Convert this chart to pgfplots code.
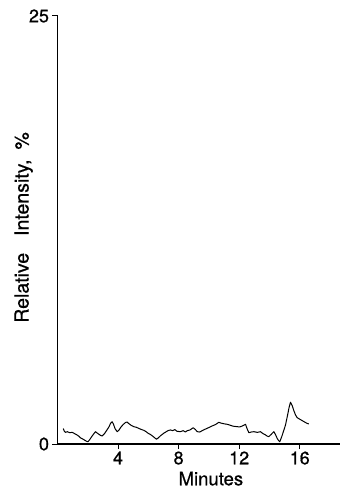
\documentclass[border=0pt]{standalone}
\usepackage{fontspec}
\setmainfont{TeX Gyre Heros}[FakeBold=0.7]
\newfontfamily\heavy{TeX Gyre Heros}[FakeBold=0.7]
\usepackage{pgfplots}
\pgfplotsset{compat=1.18}
\begin{document}
\begin{tikzpicture}
\useasboundingbox (0,0) rectangle (345pt,489pt);
\begin{axis}[
  at={(57.5pt,45pt)}, anchor=south west,
  scale only axis, width=282.5pt, height=428pt,
  xmin=0, xmax=18.66, ymin=0, ymax=25,
  enlargelimits=false, clip=false,
  axis lines=left,
  axis line style={-, line width=1.1pt, black},
  tick align=outside, major tick length=5pt,
  tick style={line width=1pt, black},
  xtick={4,8,12,16}, ytick={0,25},
  minor tick num=0,
  /pgf/number format/assume math mode=true,
  tick label style={font=\heavy\fontsize{18}{20}\selectfont},
  xticklabel style={yshift=1pt},
  xlabel={Minutes},
  xlabel style={at={(axis description cs:0.543,-0.081)}, anchor=center, font=\heavy\fontsize{18.5}{21}\selectfont},
  ylabel={Relative\hspace{17pt}Intensity,\hspace{10pt}\%},
  ylabel style={at={(axis description cs:-0.120,0.506)}, anchor=center, font=\heavy\fontsize{19.5}{22}\selectfont},
]
\addplot[black, line width=1pt, line join=round] coordinates {
(0.38,0.90) (0.45,0.75) (0.53,0.68) (0.65,0.72) (0.80,0.66) (0.97,0.68)
(1.10,0.62) (1.25,0.55) (1.40,0.46) (1.52,0.36) (1.65,0.30) (1.80,0.22)
(1.92,0.16) (2.00,0.13) (2.10,0.22) (2.25,0.42) (2.40,0.60) (2.51,0.72)
(2.62,0.64) (2.75,0.56) (2.85,0.50) (2.95,0.47) (3.10,0.60) (3.25,0.80)
(3.40,1.00) (3.50,1.20) (3.61,1.30) (3.70,1.15) (3.80,0.90) (3.94,0.72)
(4.05,0.80) (4.20,1.00) (4.35,1.15) (4.50,1.26) (4.60,1.28) (4.70,1.20)
(4.85,1.10) (5.04,1.01) (5.20,0.98) (5.35,0.92) (5.50,0.86) (5.70,0.80)
(5.85,0.72) (6.00,0.62) (6.15,0.55) (6.30,0.45) (6.45,0.34) (6.54,0.28)
(6.65,0.35) (6.80,0.48) (7.02,0.63) (7.15,0.70) (7.30,0.78) (7.46,0.82)
(7.60,0.78) (7.75,0.84) (7.90,0.74) (8.12,0.72) (8.30,0.78) (8.45,0.70)
(8.57,0.78) (8.75,0.82) (8.96,0.95) (9.10,0.85) (9.23,0.72) (9.40,0.70)
(9.60,0.80) (9.89,0.92) (10.05,0.98) (10.20,1.05) (10.40,1.12) (10.55,1.20)
(10.65,1.27) (10.80,1.22) (11.00,1.18) (11.21,1.15) (11.40,1.10) (11.60,1.04)
(11.87,1.01) (12.05,1.00) (12.20,1.05) (12.42,1.15) (12.52,0.90) (12.64,0.66)
(12.80,0.70) (12.97,0.72) (13.20,0.68) (13.41,0.72) (13.55,0.62) (13.74,0.53)
(13.85,0.46) (13.96,0.43) (14.10,0.55) (14.29,0.72) (14.40,0.55) (14.50,0.35)
(14.60,0.20) (14.68,0.13) (14.80,0.40) (14.95,0.80) (15.06,1.11) (15.20,1.70)
(15.30,2.15) (15.39,2.44) (15.50,2.25) (15.61,1.95) (15.72,1.70) (15.83,1.54)
(16.00,1.45) (16.27,1.31) (16.45,1.22) (16.60,1.17)
};
\end{axis}
\end{tikzpicture}
\end{document}
